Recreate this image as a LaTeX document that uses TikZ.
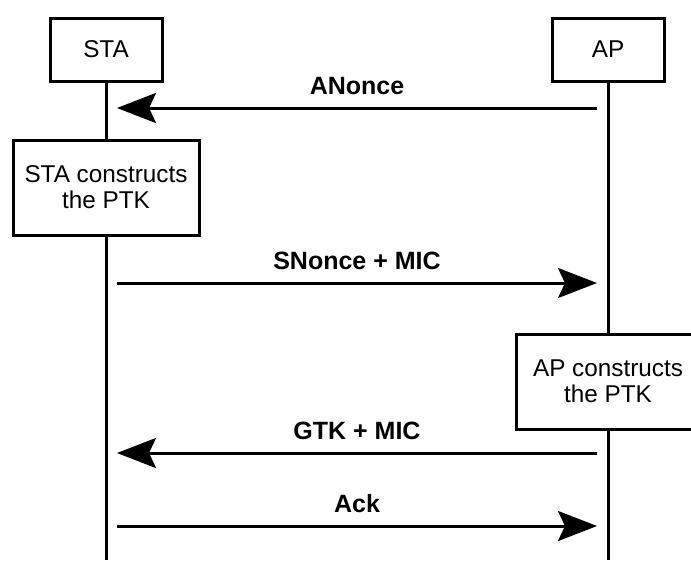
\documentclass[tikz,border=0pt]{standalone}
\usepackage{fontspec}
\setmainfont{Liberation Sans}
\usetikzlibrary{arrows.meta}

\newcommand{\diafont}{\fontsize{24.3}{26}\selectfont}
\newcommand{\msgfont}{\fontsize{25}{27}\selectfont\bfseries}

\begin{document}
\begin{tikzpicture}[x=1pt, y=-1pt, line width=3pt,
		box/.style={draw, fill=white, align=center, inner sep=0pt, font=\diafont},
		msg/.style={-{Stealth[length=39pt, width=30pt, inset=7pt]}},
		lbl/.style={font=\msgfont, inner sep=0pt, above=12pt}]
		\useasboundingbox (0,0) rectangle (691,560);
		\clip (0,0) rectangle (691,560);
		
		\node[box, minimum width=112pt, minimum height=63pt] (sta) at (106,49.5) {STA};
		\node[box, minimum width=112pt, minimum height=63pt] (ap) at (608,49.5) {AP};
		\node[box, minimum width=186pt, minimum height=95pt] (sta_ptk) at (106,187.5) {STA constructs\\the PTK};
		\node[box, minimum width=184pt, minimum height=95pt] (ap_ptk) at (608,381.5) {AP constructs\\the PTK};
		
		\coordinate (sta_end) at (106,560);
		\coordinate (ap_end) at (608,560);
		\foreach \i/\y in {1/108, 2/283, 3/453, 4/526} {
			\coordinate (S_\i) at (117,\y);
			\coordinate (A_\i) at (597,\y);
		}
		
		\draw (sta) -- (sta_ptk);
		\draw (sta_ptk) -- (sta_end);
		\draw (ap) -- (ap_ptk);
		\draw (ap_ptk) -- (ap_end);
		
		\draw[msg] (A_1) -- (S_1) node[lbl, midway] {ANonce};
		\draw[msg] (S_2) -- (A_2) node[lbl, midway] {SNonce + MIC};
		\draw[msg] (A_3) -- (S_3) node[lbl, midway] {GTK + MIC};
		\draw[msg] (S_4) -- (A_4) node[lbl, midway] {Ack};
	\end{tikzpicture}
\end{document}
